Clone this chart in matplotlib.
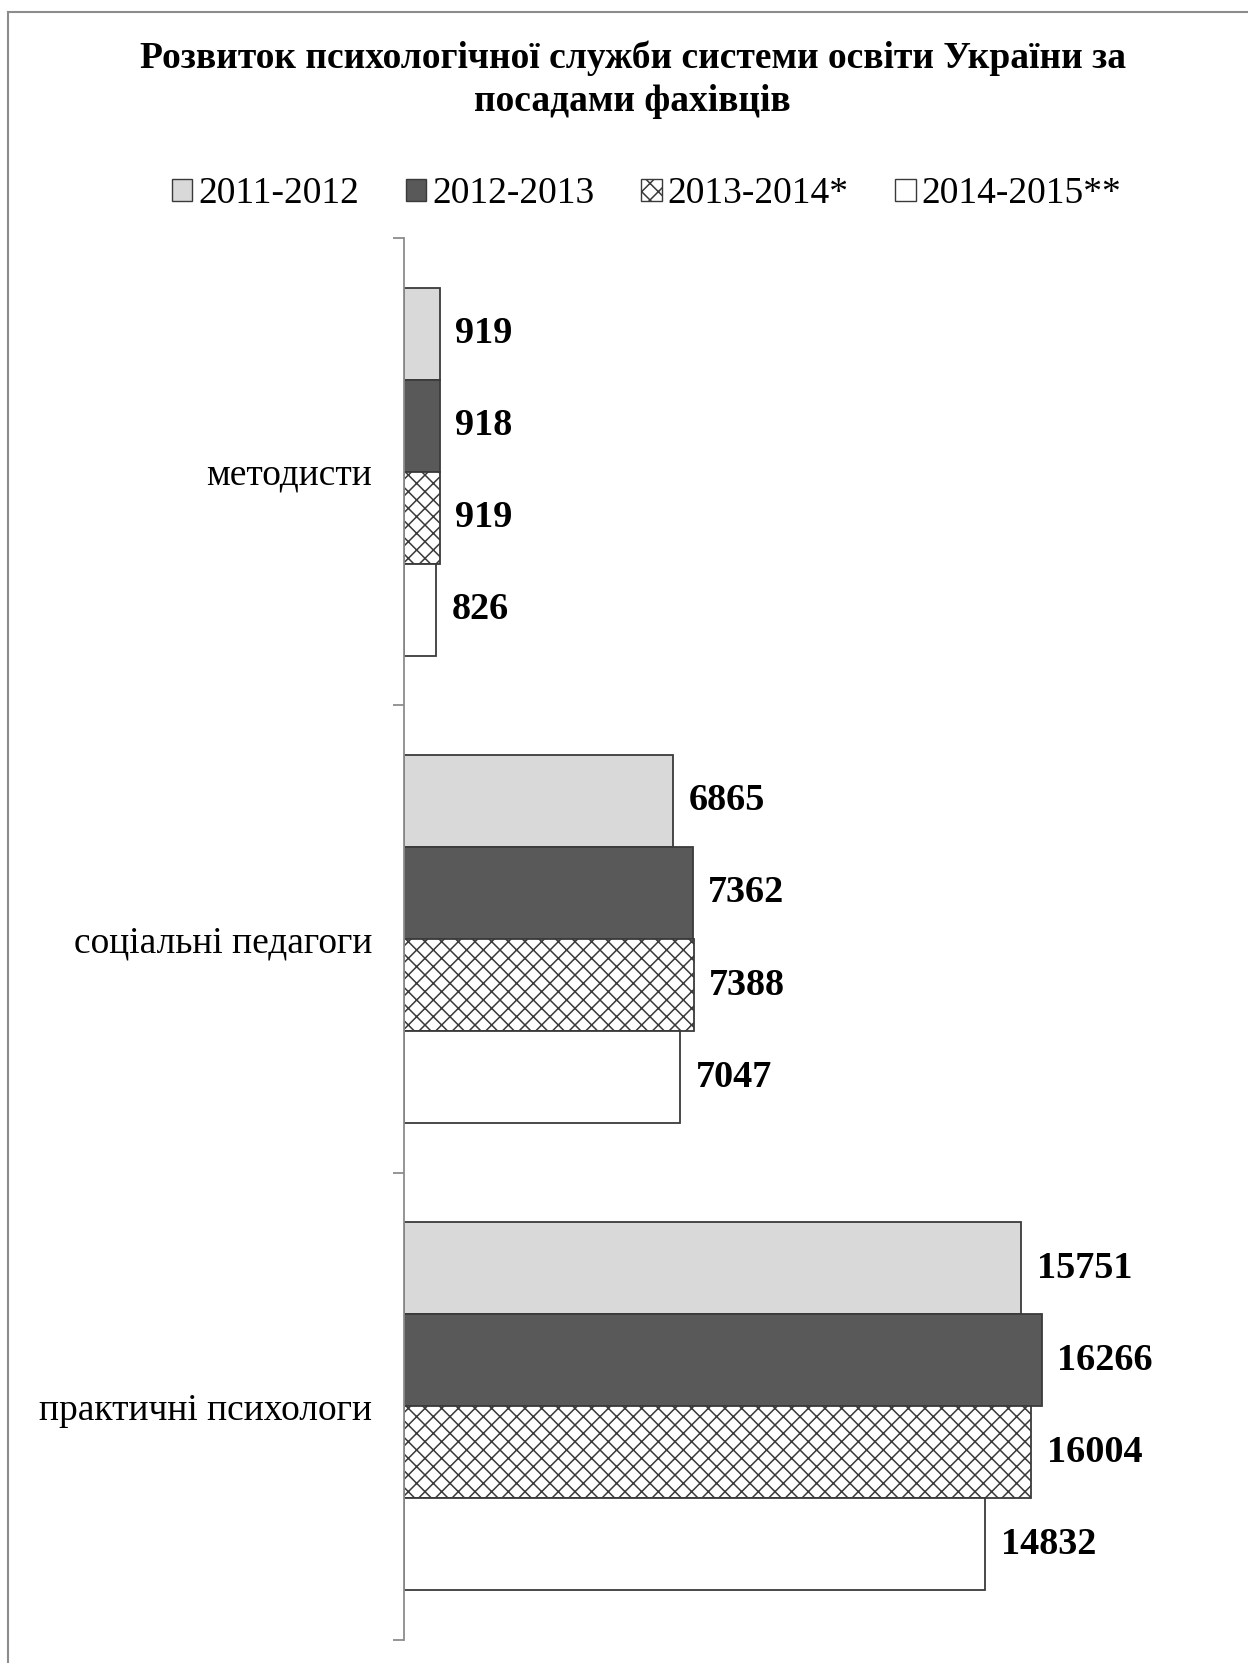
import matplotlib
matplotlib.use("Agg")
import matplotlib.pyplot as plt
from matplotlib.patches import Patch
from matplotlib.lines import Line2D
import numpy as np

plt.rcParams['font.family'] = ['Liberation Serif', 'DejaVu Serif']
plt.rcParams['hatch.linewidth'] = 1.1
plt.rcParams['hatch.color'] = '#505050'

title = "Розвиток психологічної служби системи освіти України за\nпосадами фахівців"
categories = ["методисти", "соціальні педагоги", "практичні психологи"]
series_names = ["2011-2012", "2012-2013", "2013-2014*", "2014-2015**"]
v2011 = [919, 6865, 15751]
v2012 = [918, 7362, 16266]
v2013 = [919, 7388, 16004]
v2014 = [826, 7047, 14832]
series_values = [v2011, v2012, v2013, v2014]

faces = ['#d9d9d9', '#595959', 'white', 'white']
hatches = [None, None, 'xx', None]
edge = '#3a3a3a'

W, H = 1248, 1663
fig = plt.figure(figsize=(W / 100, H / 100), dpi=100)
ax_left, ax_right = 404 / W, 1188 / W
ax_top, ax_bot = 1 - 238 / H, 1 - 1640 / H
ax = fig.add_axes([ax_left, ax_bot, ax_right - ax_left, ax_top - ax_bot])

h = 0.197
y = np.arange(len(categories))
for i, (vals, fc, ht) in enumerate(zip(series_values, faces, hatches)):
    pos = y + (i - 1.5) * h
    ax.barh(pos, vals, height=h, color=fc, edgecolor=edge, linewidth=1.3, hatch=ht, label=series_names[i])
    for p, v in zip(pos, vals):
        ax.annotate(str(v), (v, p), xytext=(11, 0), textcoords='offset points',
                    ha='left', va='center', fontsize=27.5, fontweight='bold')

ax.set_xlim(0, 20000)
ax.set_ylim(len(categories) - 0.5, -0.5)
for s in ['top', 'right', 'bottom']:
    ax.spines[s].set_visible(False)
ax.spines['left'].set_color('#8c8c8c')
ax.spines['left'].set_linewidth(1.3)
ax.set_xticks([])
ax.set_yticks(y)
ax.set_yticklabels(categories, fontsize=27)
ax.tick_params(axis='y', which='major', length=0, pad=23)
ax.set_yticks(np.arange(-0.5, len(categories)), minor=True)
ax.tick_params(axis='y', which='minor', length=8, color='#8c8c8c', width=1.3)

fig.text(0.507, 1 - 80 / H, title, ha='center', va='center', fontsize=27,
         fontweight='bold', linespacing=1.3)

handles = [Patch(facecolor=fc, edgecolor=edge, hatch=ht, linewidth=1.0) for fc, ht in zip(faces, hatches)]
fig.legend(handles, series_names, loc='center', bbox_to_anchor=(0.518, 1 - 194 / H), ncol=4,
           frameon=False, fontsize=27, handlelength=0.55, handleheight=0.55, handletextpad=0.15,
           columnspacing=1.25)

# partial chart border (top and left)
fig.add_artist(Line2D([8 / W, 1], [1 - 12 / H, 1 - 12 / H], color='#8c8c8c', lw=1.5, transform=fig.transFigure))
fig.add_artist(Line2D([8 / W, 8 / W], [0, 1 - 12 / H], color='#8c8c8c', lw=1.5, transform=fig.transFigure))

fig.savefig("out.png", dpi=100, facecolor='white')
